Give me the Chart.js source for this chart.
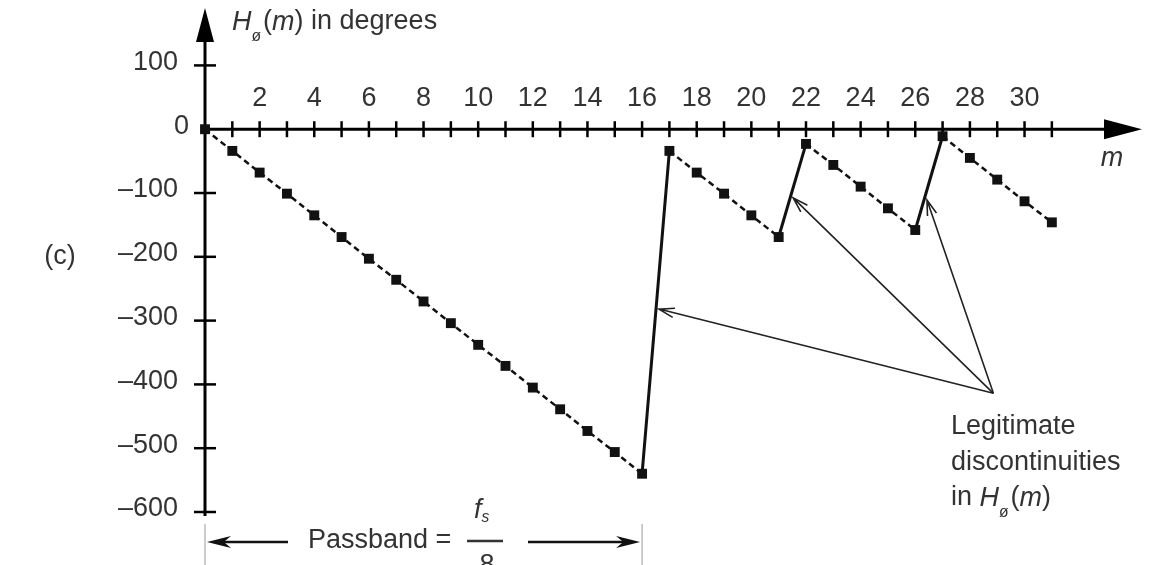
<!DOCTYPE html>
<html>
<head>
<meta charset="utf-8">
<script src="https://cdn.jsdelivr.net/npm/chart.js@4"></script>
<style>
  body { margin: 0; background: #fff; }
  #wrap { width: 1159px; height: 565px; position: relative; }
</style>
</head>
<body>
<div id="wrap"><canvas id="grafico"></canvas></div>
<script>
// Datos
const mBins = [0, 1, 2, 3, 4, 5, 6, 7, 8, 9, 10, 11, 12, 13, 14, 15, 16,
               17, 18, 19, 20, 21, 22, 23, 24, 25, 26, 27, 28, 29, 30, 31];
const phaseDeg = [0, -34, -68, -101, -135, -169, -203, -236, -270, -304, -338, -371, -405, -439, -473, -506, -540,
                  -34, -68, -101, -135, -169, -23, -56, -90, -124, -158, -11, -45, -79, -113, -146];
const xTickLabels = [2, 4, 6, 8, 10, 12, 14, 16, 18, 20, 22, 24, 26, 28, 30];
const yTickLabels = [100, 0, -100, -200, -300, -400, -500, -600];

// flechas de "Legitimate discontinuities": índice del salto y fracción sobre el tramo
const calloutFrom = { m: 28.86, deg: -414 };
const calloutTargets = [
    { index: 16, t: 0.51 },
    { index: 21, t: 0.42 },
    { index: 26, t: 0.32 }
];

const textColor = '#333';
const fontFam = '"Liberation Sans", Arial, Helvetica, sans-serif';
const fontSize = 27;

function fmtTick(v) {
    return v < 0 ? '\u2013' + Math.abs(v) : String(v);
}

// texto con cursiva y subíndice
function drawRich(ctx, parts, x, y, size) {
    let cx = x;
    parts.forEach(p => {
        const s = p.sub ? size * 0.58 : size;
        ctx.font = (p.italic ? 'italic ' : '') + s + 'px ' + fontFam;
        ctx.textAlign = 'left';
        ctx.textBaseline = 'middle';
        ctx.fillText(p.t, cx, y + (p.sub ? size * (p.subOff || 0.55) : 0));
        cx += ctx.measureText(p.t).width + (p.gap || 0);
    });
    return cx;
}

function openArrow(ctx, x1, y1, x2, y2, head) {
    const a = Math.atan2(y2 - y1, x2 - x1);
    ctx.beginPath();
    ctx.moveTo(x1, y1);
    ctx.lineTo(x2, y2);
    ctx.moveTo(x2 - head * Math.cos(a - 0.3), y2 - head * Math.sin(a - 0.3));
    ctx.lineTo(x2, y2);
    ctx.lineTo(x2 - head * Math.cos(a + 0.3), y2 - head * Math.sin(a + 0.3));
    ctx.stroke();
}

function filledArrow(ctx, x1, y1, x2, y2, head, half) {
    const a = Math.atan2(y2 - y1, x2 - x1);
    ctx.beginPath();
    ctx.moveTo(x1, y1);
    ctx.lineTo(x2 - head * 0.6 * Math.cos(a), y2 - head * 0.6 * Math.sin(a));
    ctx.stroke();
    ctx.beginPath();
    ctx.moveTo(x2, y2);
    ctx.lineTo(x2 - head * Math.cos(a) - half * Math.sin(a), y2 - head * Math.sin(a) + half * Math.cos(a));
    ctx.lineTo(x2 - head * 0.7 * Math.cos(a), y2 - head * 0.7 * Math.sin(a));
    ctx.lineTo(x2 - head * Math.cos(a) + half * Math.sin(a), y2 - head * Math.sin(a) - half * Math.cos(a));
    ctx.closePath();
    ctx.fill();
}

const ejes = {
    id: 'ejes',
    beforeDatasetsDraw(chart) {
        const ctx = chart.ctx;
        const xs = chart.scales.x, ys = chart.scales.y;
        const x0 = xs.getPixelForValue(0), y0 = ys.getPixelForValue(0);
        const yBot = ys.getPixelForValue(yTickLabels[yTickLabels.length - 1]);
        ctx.save();
        ctx.strokeStyle = '#000';
        ctx.fillStyle = '#000';
        ctx.lineWidth = 3;
        // eje x con flecha
        ctx.beginPath();
        ctx.moveTo(x0, y0);
        ctx.lineTo(xs.right - 20, y0);
        ctx.stroke();
        ctx.beginPath();
        ctx.moveTo(xs.right, y0);
        ctx.lineTo(xs.right - 38, y0 - 10);
        ctx.lineTo(xs.right - 38, y0 + 10);
        ctx.closePath();
        ctx.fill();
        // eje y con flecha
        ctx.beginPath();
        ctx.moveTo(x0, yBot + 4);
        ctx.lineTo(x0, ys.top + 20);
        ctx.stroke();
        ctx.beginPath();
        ctx.moveTo(x0, ys.top);
        ctx.lineTo(x0 - 9, ys.top + 34);
        ctx.lineTo(x0 + 9, ys.top + 34);
        ctx.closePath();
        ctx.fill();
        // marcas
        ctx.lineWidth = 2.5;
        mBins.slice(1).forEach(m => {
            const px = xs.getPixelForValue(m);
            ctx.beginPath();
            ctx.moveTo(px, y0 - 8);
            ctx.lineTo(px, y0 + 8);
            ctx.stroke();
        });
        yTickLabels.filter(v => v !== 0).forEach(v => {
            const py = ys.getPixelForValue(v);
            ctx.beginPath();
            ctx.moveTo(x0 - 11, py);
            ctx.lineTo(x0 + 11, py);
            ctx.stroke();
        });
        // etiquetas
        ctx.fillStyle = textColor;
        ctx.font = fontSize + 'px ' + fontFam;
        ctx.textAlign = 'center';
        ctx.textBaseline = 'middle';
        xTickLabels.forEach(v => ctx.fillText(String(v), xs.getPixelForValue(v), y0 - 31));
        ctx.textAlign = 'right';
        yTickLabels.forEach(v => {
            ctx.fillText(fmtTick(v), v === 0 ? x0 - 16 : x0 - 27, ys.getPixelForValue(v) - 3);
        });
        ctx.restore();
    },
    afterDatasetsDraw(chart) {
        const ctx = chart.ctx;
        const xs = chart.scales.x, ys = chart.scales.y;
        const x0 = xs.getPixelForValue(0), y0 = ys.getPixelForValue(0);
        const pts = chart.getDatasetMeta(0).data;
        ctx.save();
        ctx.fillStyle = textColor;
        ctx.strokeStyle = textColor;
        // título del eje y
        drawRich(ctx, [
            { t: 'H', italic: true },
            { t: '\u00f8', sub: true, gap: 2 },
            { t: '(' },
            { t: 'm', italic: true },
            { t: ') in degrees' }
        ], x0 + 27, 22, fontSize);
        // m
        ctx.font = 'italic ' + fontSize + 'px ' + fontFam;
        ctx.textAlign = 'center';
        ctx.textBaseline = 'middle';
        ctx.fillText('m', xs.getPixelForValue(33.2), y0 + 29);
        // (c)
        ctx.font = fontSize + 'px ' + fontFam;
        ctx.fillText('(c)', 60, ys.getPixelForValue(-200));
        // flechas hacia las discontinuidades
        const fx = xs.getPixelForValue(calloutFrom.m), fy = ys.getPixelForValue(calloutFrom.deg);
        ctx.strokeStyle = '#222';
        ctx.lineWidth = 1.6;
        calloutTargets.forEach(c => {
            const a = pts[c.index], b = pts[c.index + 1];
            const tx = a.x + (b.x - a.x) * c.t, ty = a.y + (b.y - a.y) * c.t;
            openArrow(ctx, fx, fy, tx + 3, ty, 16);
        });
        // texto de la anotación
        ctx.fillStyle = textColor;
        ctx.font = fontSize + 'px ' + fontFam;
        ctx.textAlign = 'left';
        ctx.fillText('Legitimate', 951, 427);
        ctx.fillText('discontinuities', 951, 463);
        drawRich(ctx, [
            { t: 'in ', gap: 0 },
            { t: 'H', italic: true },
            { t: '\u00f8', sub: true, gap: 2 },
            { t: '(' },
            { t: 'm', italic: true },
            { t: ')' }
        ], 951, 498, fontSize);
        // banda de paso
        const p16 = xs.getPixelForValue(16);
        ctx.strokeStyle = '#999';
        ctx.lineWidth = 1;
        [x0, p16].forEach(px => {
            ctx.beginPath();
            ctx.moveTo(px, 524);
            ctx.lineTo(px, 565);
            ctx.stroke();
        });
        ctx.strokeStyle = '#111';
        ctx.fillStyle = '#111';
        ctx.lineWidth = 2.5;
        filledArrow(ctx, 288, 542, x0 + 2, 542, 24, 6);
        filledArrow(ctx, 528, 542, p16 - 2, 542, 24, 6);
        ctx.fillStyle = textColor;
        ctx.font = fontSize + 'px ' + fontFam;
        ctx.textBaseline = 'middle';
        ctx.fillText('Passband =', 308, 541);
        drawRich(ctx, [
            { t: 'f', italic: true },
            { t: 's', italic: true, sub: true, subOff: 0.3 }
        ], 474, 510, fontSize);
        ctx.strokeStyle = '#333';
        ctx.lineWidth = 2.5;
        ctx.beginPath();
        ctx.moveTo(467, 541);
        ctx.lineTo(503, 541);
        ctx.stroke();
        ctx.font = fontSize + 'px ' + fontFam;
        ctx.textAlign = 'center';
        ctx.fillText('8', 487, 566);
        ctx.restore();
    }
};

const esSalto = ctx => ctx.p1.parsed.y > ctx.p0.parsed.y;

new Chart(document.getElementById('grafico'), {
    type: 'line',
    data: {
        datasets: [{
            data: mBins.map((m, i) => ({ x: m, y: phaseDeg[i] })),
            borderColor: '#111',
            backgroundColor: '#111',
            borderWidth: 2.5,
            borderDash: [6, 4],
            pointStyle: 'rect',
            pointRadius: 7,
            pointBorderWidth: 0,
            clip: false,
            segment: {
                borderDash: ctx => esSalto(ctx) ? [] : [6, 4],
                borderWidth: ctx => esSalto(ctx) ? 3 : 2.5
            }
        }]
    },
    options: {
        responsive: true,
        maintainAspectRatio: false,
        animation: false,
        layout: { padding: { left: 205, right: 17, top: 8, bottom: 53 } },
        plugins: { legend: { display: false }, tooltip: { enabled: false } },
        scales: {
            x: { type: 'linear', min: 0, max: 34.3, display: false },
            y: { min: -600, max: 190, display: false }
        }
    },
    plugins: [ejes]
});
</script>
</body>
</html>
